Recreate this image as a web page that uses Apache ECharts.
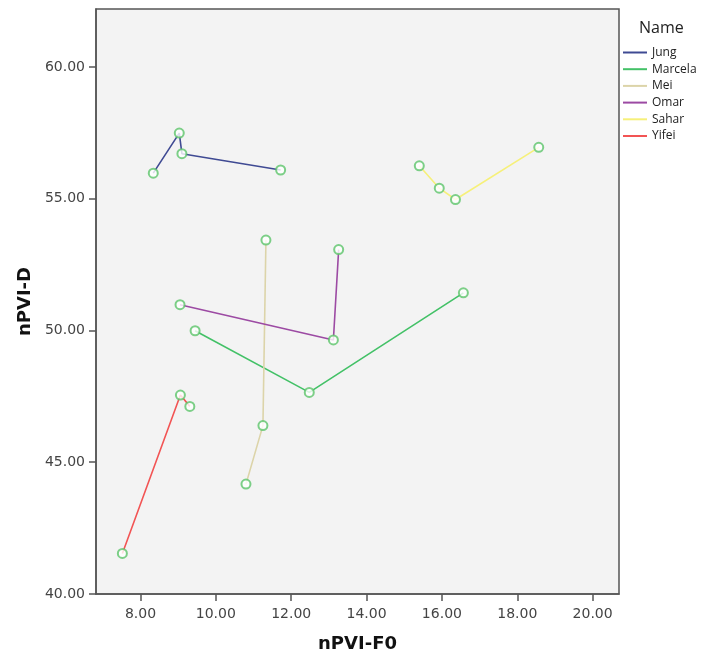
<!DOCTYPE html>
<html>
<head>
<meta charset="utf-8">
<script src="https://cdn.jsdelivr.net/npm/echarts@6/dist/echarts.min.js"></script>
<style>html,body{margin:0;padding:0;background:#fff;}#c{width:707px;height:658px;}</style>
</head>
<body>
<div id="c"></div>
<script>
const names = ['Jung', 'Marcela', 'Mei', 'Omar', 'Sahar', 'Yifei'];
const colors = ['#3f4a93', '#43c167', '#dcd4a9', '#9c4aa3', '#f6f07a', '#f25454'];
const jungX = [8.34, 9.03, 9.10, 11.72];
const jungY = [55.97, 57.49, 56.71, 56.09];
const marcelaX = [9.45, 12.48, 16.57];
const marcelaY = [49.99, 47.65, 51.43];
const meiX = [10.80, 11.25, 11.33];
const meiY = [44.17, 46.39, 53.43];
const omarX = [9.05, 13.12, 13.26];
const omarY = [50.98, 49.64, 53.07];
const saharX = [15.40, 15.93, 16.36, 18.57];
const saharY = [56.25, 55.40, 54.97, 56.95];
const yifeiX = [7.52, 9.06, 9.31];
const yifeiY = [41.54, 47.55, 47.12];
const xTicks = [8, 10, 12, 14, 16, 18, 20];
const yTicks = [40, 45, 50, 55, 60];

const xs = [jungX, marcelaX, meiX, omarX, saharX, yifeiX];
const ys = [jungY, marcelaY, meiY, omarY, saharY, yifeiY];
const pairs = xs.map((arr, i) => arr.map((v, j) => [v, ys[i][j]]));

const chart = echarts.init(document.getElementById('c'));
const tickFont = { fontFamily: 'DejaVu Sans', fontSize: 14, color: '#444' };
const series = names.map((n, i) => ({
  name: n, type: 'line', data: pairs[i], color: colors[i],
  symbol: 'none', lineStyle: { width: 1.6, color: colors[i] }, z: 2, animation: false
}));
series.push({
  name: 'points', type: 'scatter', data: [].concat(...pairs), symbol: 'emptyCircle', symbolSize: 9,
  itemStyle: { color: '#5cc46a', borderColor: '#5cc46a', borderWidth: 1.6 }, z: 3, animation: false
});
chart.setOption({
  animation: false,
  title: { text: 'Name', left: 639, top: 20, padding: 0, textStyle: { fontFamily: 'Open Sans', fontSize: 16, fontWeight: 'normal', color: '#222' } },
  legend: {
    data: names.map(n => ({ name: n, icon: 'rect' })),
    orient: 'vertical', left: 623, top: 45, padding: 0, itemWidth: 24, itemHeight: 2, itemGap: 1.7,
    textStyle: { fontFamily: 'Open Sans', fontSize: 12, color: '#222', lineHeight: 15 },
    selectedMode: false
  },
  grid: { left: 96, right: 88, top: 9, bottom: 63, show: true, backgroundColor: '#f3f3f3', borderColor: '#555', borderWidth: 1.5 },
  xAxis: {
    type: 'value', min: 6.82, max: 20.70, name: 'nPVI-F0', nameLocation: 'middle', nameGap: 41,
    nameTextStyle: { fontFamily: 'DejaVu Sans', fontWeight: 'bold', fontSize: 18, color: '#111' },
    splitLine: { show: false },
    axisLine: { show: true, lineStyle: { color: '#555', width: 1.5 } },
    axisTick: { show: true, length: 7, customValues: xTicks, lineStyle: { color: '#555', width: 1.5 } },
    axisLabel: Object.assign({ customValues: xTicks, margin: 13, formatter: v => v.toFixed(2) }, tickFont)
  },
  yAxis: {
    type: 'value', min: 40, max: 62.2, name: 'nPVI-D', nameLocation: 'middle', nameGap: 62,
    nameTextStyle: { fontFamily: 'DejaVu Sans', fontWeight: 'bold', fontSize: 18, color: '#111' },
    splitLine: { show: false },
    axisLine: { show: true, lineStyle: { color: '#555', width: 1.5 } },
    axisTick: { show: true, length: 7, customValues: yTicks, lineStyle: { color: '#555', width: 1.5 } },
    axisLabel: Object.assign({ customValues: yTicks, margin: 11, formatter: v => v.toFixed(2) }, tickFont)
  },
  series: series
});
</script>
</body>
</html>
